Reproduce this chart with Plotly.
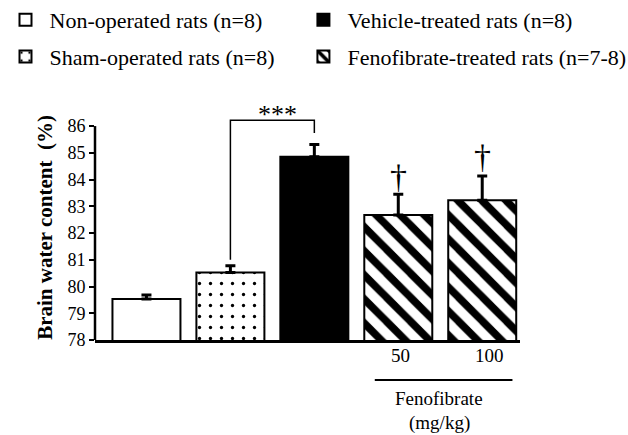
import plotly.graph_objects as go

# ---- data ----
groups = ["Non-operated", "Sham-operated", "Vehicle-treated", "Fenofibrate 50", "Fenofibrate 100"]
means = [79.53, 80.52, 84.85, 82.67, 83.23]
sems = [0.15, 0.26, 0.46, 0.78, 0.90]
legend_names = ["Non-operated rats (n=8)", "Sham-operated rats (n=8)",
                "Vehicle-treated rats (n=8)", "Fenofibrate-treated rats (n=7-8)"]
dose_labels = ["50", "100"]
yticks = [78, 79, 80, 81, 82, 83, 84, 85, 86]
# significance bracket between sham and vehicle
bracket_start = 81.0
bracket_top = 86.22
bracket_end = 85.74
stars_y = 86.42
dagger_y = [84.13, 84.88]

FONT = "Liberation Serif"
xpos = list(range(len(groups)))

fig = go.Figure()

err_style = dict(type="data", symmetric=False, thickness=3, width=5, color="black")
line_style = dict(color="black", width=2)

# Non-operated
fig.add_trace(go.Bar(
    x=[xpos[0]], y=[means[0]], name=legend_names[0], legend="legend",
    marker=dict(color="white", line=line_style),
    error_y=dict(array=[sems[0]], arrayminus=[0], **err_style)))
# Sham
fig.add_trace(go.Bar(
    x=[xpos[1]], y=[means[1]], name=legend_names[1], legend="legend2",
    marker=dict(color="white", line=line_style,
                pattern=dict(shape=".", size=11, solidity=0.07, fgcolor="black",
                             bgcolor="white", fgopacity=1, fillmode="replace")),
    error_y=dict(array=[sems[1]], arrayminus=[0], **err_style)))
# Vehicle
fig.add_trace(go.Bar(
    x=[xpos[2]], y=[means[2]], name=legend_names[2], legend="legend3",
    marker=dict(color="black", line=line_style),
    error_y=dict(array=[sems[2]], arrayminus=[0], **err_style)))
# Fenofibrate
fig.add_trace(go.Bar(
    x=xpos[3:], y=means[3:], name=legend_names[3], legend="legend4",
    marker=dict(color="white", line=line_style,
                pattern=dict(shape="\\", size=17, solidity=0.45, fgcolor="black",
                             bgcolor="white", fgopacity=1, fillmode="replace")),
    error_y=dict(array=sems[3:], arrayminus=[0, 0], **err_style)))

# y axis line (only up to the top tick)
fig.add_shape(type="line", xref="paper", yref="y", x0=0, x1=0, y0=yticks[0], y1=yticks[-1],
              line=dict(color="black", width=2.5))
# bracket
fig.add_shape(type="path", xref="x", yref="y",
              path=f"M{xpos[1]},{bracket_start} L{xpos[1]},{bracket_top} L{xpos[2]},{bracket_top} L{xpos[2]},{bracket_end}",
              line=dict(color="black", width=1.5))
fig.add_annotation(x=(xpos[1] + xpos[2]) / 2, y=stars_y, xref="x", yref="y", text="***",
                   showarrow=False, xshift=5, font=dict(family=FONT, size=26, color="black"))
for xi, dy in zip(xpos[3:], dagger_y):
    fig.add_annotation(x=xi, y=dy, xref="x", yref="y", text="†", showarrow=False,
                       yanchor="middle", font=dict(family=FONT, size=34, color="black"))

# dose labels under axis
for xi, lab in zip(xpos[3:], dose_labels):
    fig.add_annotation(x=xi, y=0, xref="x", yref="paper", text=lab, showarrow=False,
                       yanchor="middle", yshift=-15, xshift=2 if lab == "50" else 7,
                       font=dict(family=FONT, size=19, color="black"))
fig.add_shape(type="line", xref="x", yref="paper", x0=2.72, x1=4.36, y0=-0.168, y1=-0.168,
              line=dict(color="black", width=2))
fig.add_annotation(x=3.49, y=0, xref="x", yref="paper", text="Fenofibrate", showarrow=False,
                   yanchor="middle", yshift=-58, font=dict(family=FONT, size=19, color="black"))
fig.add_annotation(x=3.49, y=0, xref="x", yref="paper", text="(mg/kg)", showarrow=False,
                   yanchor="middle", yshift=-83, font=dict(family=FONT, size=19, color="black"))

# y axis title
fig.add_annotation(x=-0.118, y=0.475, xref="paper", yref="paper", text="<b>Brain water content  (%)</b>",
                   textangle=-90, showarrow=False, xanchor="center", yanchor="middle",
                   font=dict(family=FONT, size=21, color="black"))

legend_common = dict(orientation="v", xanchor="left", yanchor="middle",
                     bgcolor="rgba(0,0,0,0)", itemwidth=38,
                     font=dict(family=FONT, size=22, color="black"))
col1_x, col2_x = -0.22, 0.481
row1_y, row2_y = 1.345, 1.19

fig.update_layout(
    width=628, height=435,
    margin=dict(l=95, r=108, t=102, b=95, autoexpand=False),
    paper_bgcolor="white", plot_bgcolor="white",
    barmode="overlay", bargap=0.19,
    showlegend=True,
    legend=dict(x=col1_x, y=row1_y, **legend_common),
    legend2=dict(x=col1_x, y=row2_y, **legend_common),
    legend3=dict(x=col2_x, y=row1_y, **legend_common),
    legend4=dict(x=col2_x, y=row2_y, **legend_common),
    xaxis=dict(range=[-0.613, 4.45], showticklabels=False, ticks="", showgrid=False,
               zeroline=False, showline=True, linecolor="black", linewidth=2.5),
    yaxis=dict(range=[78, 86.9], tickvals=yticks, ticks="outside", ticklen=5, tickwidth=2,
               tickcolor="black", showline=False, showgrid=False, zeroline=False,
               tickfont=dict(family=FONT, size=18, color="black")),
    font=dict(family=FONT, color="black"),
)

fig.write_html("out.html", config={"displayModeBar": False},
               post_script="document.body.style.margin='0';")
